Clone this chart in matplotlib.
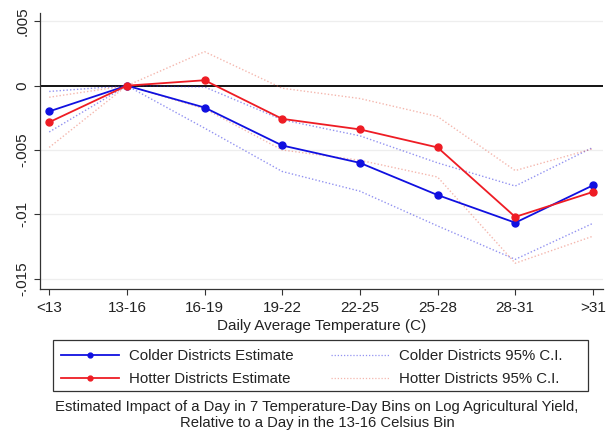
import matplotlib
matplotlib.use("Agg")
import matplotlib.pyplot as plt
from matplotlib.patches import Rectangle
import numpy as np

plt.rcParams['font.family'] = ['Liberation Sans', 'DejaVu Sans']

categories = ["<13", "13-16", "16-19", "19-22", "22-25", "25-28", "28-31", ">31"]
colder_est = [-0.0020, 0.0, -0.0017, -0.00465, -0.0060, -0.0085, -0.01065, -0.00775]
colder_lo = [-0.0036, 0.0, -0.0033, -0.00667, -0.0082, -0.0109, -0.0135, -0.0107]
colder_hi = [-0.00045, 0.0, -0.0001, -0.00265, -0.0039, -0.0060, -0.0078, -0.0048]
hotter_est = [-0.00284, 0.0, 0.00042, -0.00258, -0.0034, -0.0048, -0.0102, -0.00826]
hotter_lo = [-0.0048, 0.0, -0.0018, -0.0050, -0.0058, -0.0071, -0.0138, -0.0117]
hotter_hi = [-0.0009, 0.0, 0.00264, -0.0002, -0.0010, -0.0024, -0.0066, -0.0049]
yticks = [0.005, 0.0, -0.005, -0.01, -0.015]
ytick_labels = [".005", "0", "-.005", "-.01", "-.015"]

blue = "#1010e0"
red = "#ee1c24"
ci_red = "#e8604c"
dots = (0, (1, 1.5))
W, H = 613, 436

fig = plt.figure(figsize=(6.13, 4.36), dpi=100)
ax = fig.add_axes([39.5/W, 1 - 288.7/H, (603 - 39.5)/W, (288.7 - 12.7)/H])

x = np.arange(len(categories))

for yt in yticks:
    if yt != 0:
        ax.axhline(yt, color="#eeeeee", lw=0.9, zorder=0)
ax.axhline(0, color="black", lw=1.3, zorder=1)

ax.plot(x, colder_hi, color=blue, ls=dots, lw=1.0, alpha=0.45, zorder=2)
ax.plot(x, colder_lo, color=blue, ls=dots, lw=1.0, alpha=0.45, zorder=2)
ax.plot(x, hotter_hi, color=ci_red, ls=dots, lw=1.0, alpha=0.45, zorder=2)
ax.plot(x, hotter_lo, color=ci_red, ls=dots, lw=1.0, alpha=0.45, zorder=2)
l1, = ax.plot(x, colder_est, color=blue, lw=1.3, marker="o", ms=5, zorder=3)
l2, = ax.plot(x, hotter_est, color=red, lw=1.3, marker="o", ms=5, zorder=4)

ax.set_xlim(-0.125, 7.13)
ax.set_ylim(-0.01578, 0.00567)
ax.set_xticks(x)
ax.set_xticklabels(categories, fontsize=11, color="#222222")
ax.set_yticks(yticks)
ax.set_yticklabels(ytick_labels, fontsize=11, rotation=90, va="center", color="#222222")
ax.spines["top"].set_visible(False)
ax.spines["right"].set_visible(False)
for s in ("left", "bottom"):
    ax.spines[s].set_linewidth(0.9)
    ax.spines[s].set_color("#333333")
ax.tick_params(axis="both", direction="out", length=4, width=0.8, color="#333333")
ax.tick_params(axis="x", pad=4.5)
ax.tick_params(axis="y", pad=3)
ax.set_xlabel("Daily Average Temperature (C)", fontsize=11, labelpad=3, color="#222222")

h_cci, = ax.plot([], [], color=blue, ls=dots, lw=0.9, alpha=0.45)
h_hci, = ax.plot([], [], color=ci_red, ls=dots, lw=0.9, alpha=0.45)

leg = fig.legend([l1, l2, h_cci, h_hci],
                 ["Colder Districts Estimate", "Hotter Districts Estimate",
                  "Colder Districts 95% C.I.", "Hotter Districts 95% C.I."],
                 ncol=2, loc="upper left", bbox_to_anchor=(53/W, 1 - 342/H),
                 fontsize=10.8, frameon=False,
                 handlelength=3.9, columnspacing=2.5, borderpad=0.0,
                 labelspacing=0.55, handletextpad=0.65, markerscale=0.7)
for t in leg.get_texts():
    t.set_color("#222222")

fig.add_artist(Rectangle((53/W, 1 - 391/H), (588 - 53)/W, 51/H,
                         transform=fig.transFigure, fill=False,
                         edgecolor="#333333", linewidth=0.9))

fig.text(317/W, 1 - 415/H,
         "Estimated Impact of a Day in 7 Temperature-Day Bins on Log Agricultural Yield,\nRelative to a Day in the 13-16 Celsius Bin",
         ha="center", va="center", fontsize=10.7, linespacing=1.12, color="#222222")

fig.savefig("out.png", dpi=100)
